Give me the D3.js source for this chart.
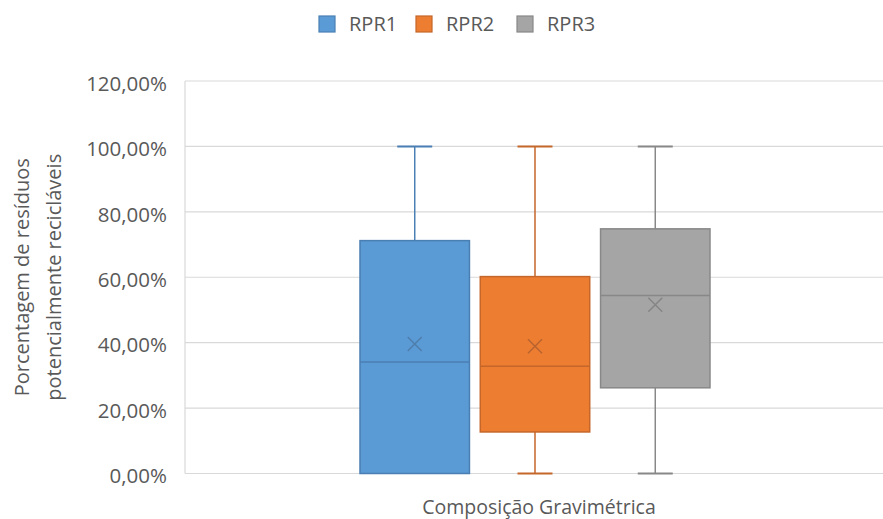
<!DOCTYPE html>
<html>
<head>
<meta charset="utf-8">
<script src="https://cdn.jsdelivr.net/npm/d3@7"></script>
<style>
  html, body { margin: 0; padding: 0; background: #fff; }
  svg { display: block; font-family: "Open Sans", "Noto Sans", sans-serif; }
</style>
</head>
<body>
<svg id="chart" width="883" height="519"></svg>
<script>
// Box plot data (percent values)
const category = "Composição Gravimétrica";
const series = ["RPR1", "RPR2", "RPR3"];
const minVals    = [0, 0, 0];
const q1Vals     = [0, 12.7, 26.2];
const medianVals = [34.1, 32.8, 54.4];
const q3Vals     = [71.2, 60.2, 74.8];
const maxVals    = [100, 100, 100];
const meanVals   = [39.6, 38.9, 51.6];
const yTicks = [0, 20, 40, 60, 80, 100, 120];

const fills   = ["#5b9bd5", "#ed7d31", "#a5a5a5"];
const strokes = ["#4a7fb3", "#c5662a", "#888888"];
const markColors = ["#4d7eac", "#b86430", "#858585"];

const svg = d3.select("#chart");
const W = 883, H = 519;
const plot = { left: 185, right: 885, top: 81, bottom: 473.5 };

const y = d3.scaleLinear().domain([0, 120]).range([plot.bottom, plot.top]);
const x0 = d3.scaleBand().domain([category]).range([plot.left, plot.right]).padding(1 / 3);
const x1 = d3.scaleBand().domain(series).range([0, x0.bandwidth()]).paddingInner(0.09);

const textColor = "#595959";
const fmt = v => d3.format(".2f")(v).replace(".", ",") + "%";

// Gridlines
svg.append("g")
  .selectAll("line")
  .data(yTicks)
  .join("line")
  .attr("x1", plot.left).attr("x2", W)
  .attr("y1", d => y(d)).attr("y2", d => y(d))
  .attr("stroke", "#d9d9d9").attr("stroke-width", 1.2);

// Left axis line
svg.append("line")
  .attr("x1", plot.left).attr("x2", plot.left)
  .attr("y1", y(120)).attr("y2", y(0))
  .attr("stroke", "#d9d9d9").attr("stroke-width", 1.2);

// Y tick labels via d3 axis
const yAxis = d3.axisLeft(y).tickValues(yTicks).tickFormat(fmt).tickSize(0).tickPadding(18);
const gy = svg.append("g").attr("transform", `translate(${plot.left},0)`).call(yAxis);
gy.select(".domain").remove();
gy.selectAll("text")
  .attr("fill", textColor)
  .attr("font-size", 20.5)
  .attr("font-family", "'Open Sans', sans-serif")
  .attr("dy", "0.45em");

// Boxes
const data = series.map((s, i) => ({
  name: s, min: minVals[i], q1: q1Vals[i], med: medianVals[i],
  q3: q3Vals[i], max: maxVals[i], mean: meanVals[i], i
}));

const capW = 35;
const groups = svg.append("g")
  .attr("transform", `translate(${x0(category)},0)`)
  .selectAll("g")
  .data(data)
  .join("g")
  .attr("transform", d => `translate(${x1(d.name)},0)`);

const bw = x1.bandwidth();

// whiskers
groups.append("line")
  .attr("x1", bw / 2).attr("x2", bw / 2)
  .attr("y1", d => y(d.q3)).attr("y2", d => y(d.max))
  .attr("stroke", d => strokes[d.i]).attr("stroke-width", 1.5);
groups.append("line")
  .attr("x1", bw / 2).attr("x2", bw / 2)
  .attr("y1", d => y(d.min)).attr("y2", d => y(d.q1))
  .attr("stroke", d => strokes[d.i]).attr("stroke-width", 1.5);
// caps
groups.append("line")
  .attr("x1", bw / 2 - capW / 2).attr("x2", bw / 2 + capW / 2)
  .attr("y1", d => y(d.max)).attr("y2", d => y(d.max))
  .attr("stroke", d => strokes[d.i]).attr("stroke-width", 2);
groups.filter(d => d.min < d.q1).append("line")
  .attr("x1", bw / 2 - capW / 2).attr("x2", bw / 2 + capW / 2)
  .attr("y1", d => y(d.min)).attr("y2", d => y(d.min))
  .attr("stroke", d => strokes[d.i]).attr("stroke-width", 2);

// box
groups.append("rect")
  .attr("x", 0).attr("width", bw)
  .attr("y", d => y(d.q3)).attr("height", d => y(d.q1) - y(d.q3))
  .attr("fill", d => fills[d.i])
  .attr("stroke", d => strokes[d.i]).attr("stroke-width", 1.5);

// median
groups.append("line")
  .attr("x1", 0).attr("x2", bw)
  .attr("y1", d => y(d.med)).attr("y2", d => y(d.med))
  .attr("stroke", d => strokes[d.i]).attr("stroke-width", 1.5);

// mean marker
const m = 7;
groups.append("path")
  .attr("d", d => {
    const cx = bw / 2, cy = y(d.mean);
    return `M${cx - m},${cy - m}L${cx + m},${cy + m}M${cx - m},${cy + m}L${cx + m},${cy - m}`;
  })
  .attr("stroke", d => markColors[d.i]).attr("stroke-width", 1.5).attr("fill", "none");

// X axis label
svg.append("text")
  .attr("x", x0(category) + x0.bandwidth() / 2 + 4)
  .attr("y", 514)
  .attr("text-anchor", "middle")
  .attr("fill", textColor)
  .attr("font-size", 19.5)
  .text(category);

// Y axis title (two lines)
const yTitle = svg.append("text")
  .attr("transform", `translate(0,${(plot.top + plot.bottom) / 2}) rotate(-90)`)
  .attr("text-anchor", "middle")
  .attr("fill", textColor)
  .attr("font-size", 20);
yTitle.append("tspan").attr("x", 0).attr("y", 29).text("Porcentagem de resíduos");
yTitle.append("tspan").attr("x", 0).attr("y", 61).text("potencialmente recicláveis");

// Legend
const legendX = [319, 416, 517];
const leg = svg.append("g")
  .selectAll("g")
  .data(data)
  .join("g")
  .attr("transform", d => `translate(${legendX[d.i]},16)`);
leg.append("rect")
  .attr("width", 16).attr("height", 16)
  .attr("fill", d => fills[d.i])
  .attr("stroke", d => strokes[d.i]).attr("stroke-width", 1.2);
leg.append("text")
  .attr("x", 30).attr("y", 8).attr("dy", "0.36em")
  .attr("fill", textColor)
  .attr("font-size", 20)
  .text(d => d.name);
</script>
</body>
</html>
